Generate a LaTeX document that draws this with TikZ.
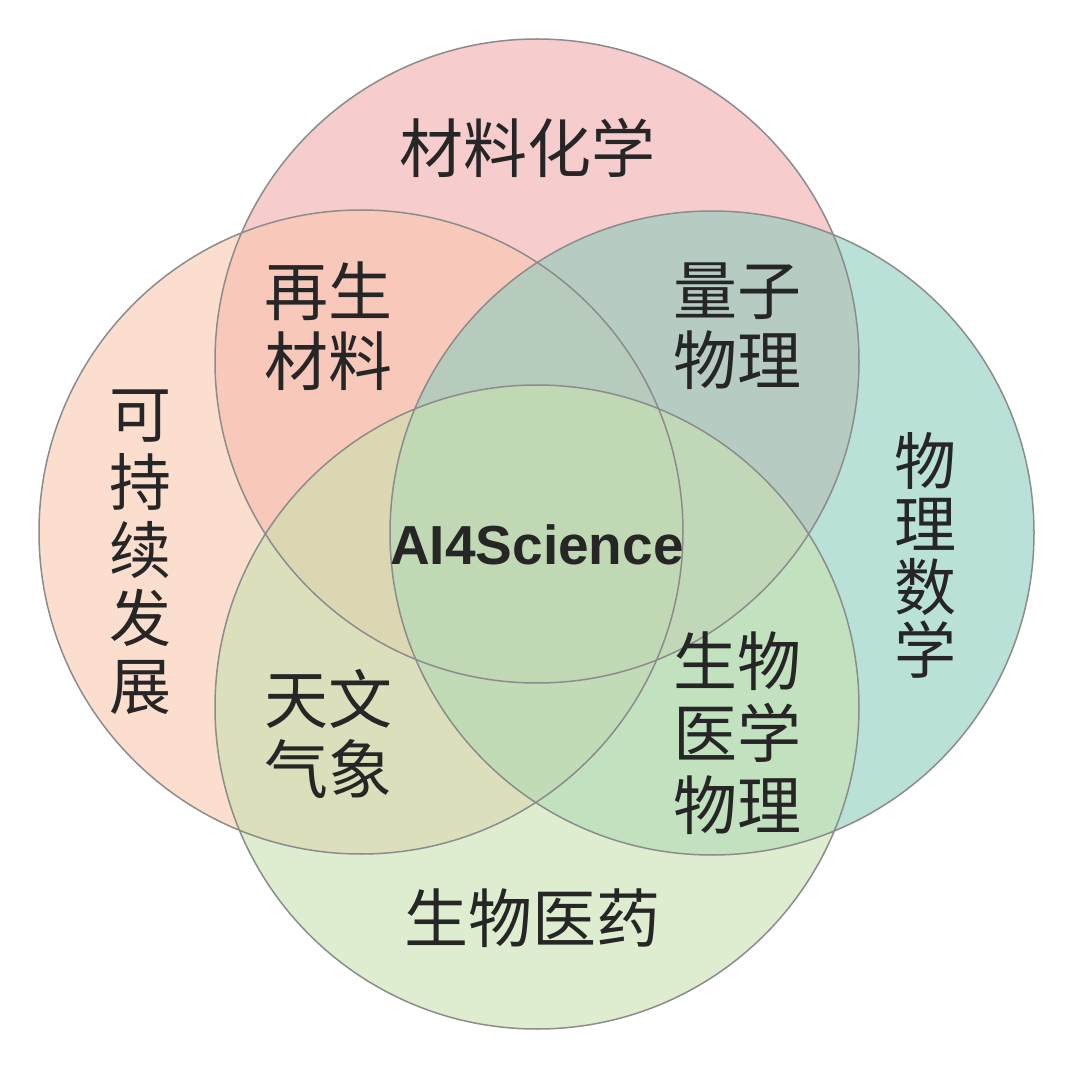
\documentclass[tikz,border=0pt]{standalone}
\usepackage{fontspec}
\newfontfamily\cjk{Noto Sans CJK SC}
\newfontfamily\bsans{Liberation Sans}
\begin{document}
\begin{tikzpicture}[x=1pt,y=-1pt,
  circ/.style={fill opacity=0.6},
  lab/.style={font=\cjk\fontsize{64}{70}\selectfont,align=center,text=black!85}]
\useasboundingbox (0,0) rectangle (1080,1075);
\fill[white] (0,0) rectangle (1080,1075);
\path[circ,fill={rgb,255:red,240;green,170;blue,170}] (537,361) circle (322);
\path[circ,fill={rgb,255:red,250;green,200;blue,175}] (361,532) circle (322);
\path[circ,fill={rgb,255:red,140;green,205;blue,190}] (712,533) circle (322);
\path[circ,fill={rgb,255:red,200;green,225;blue,175}] (537,707) circle (322);
\draw[draw=black!45,line width=1.5pt] (537,361) circle (322) (361,532) circle (322) (712,533) circle (322) (537,707) circle (322);
\node[lab] (a) at (527,148) {材料化学};
\node[lab] (b) at (328,326) {再生\\材料};
\node[lab] (c) at (737,326) {量子\\物理};
\node[lab,font=\cjk\fontsize{62}{68}\selectfont] (d) at (140,552) {可\\持\\续\\发\\展};
\node[lab,font=\cjk\fontsize{62}{63}\selectfont] (e) at (925,555) {物\\理\\数\\学};
\node[font=\bsans\bfseries\fontsize{55}{60}\selectfont,text=black!85] (f) at (537,545) {AI4Science};
\node[lab] (g) at (328,734) {天文\\气象};
\node[lab,font=\cjk\fontsize{64}{72}\selectfont] (h) at (737,733) {生物\\医学\\物理};
\node[lab] (i) at (532,918) {生物医药};
\end{tikzpicture}
\end{document}
